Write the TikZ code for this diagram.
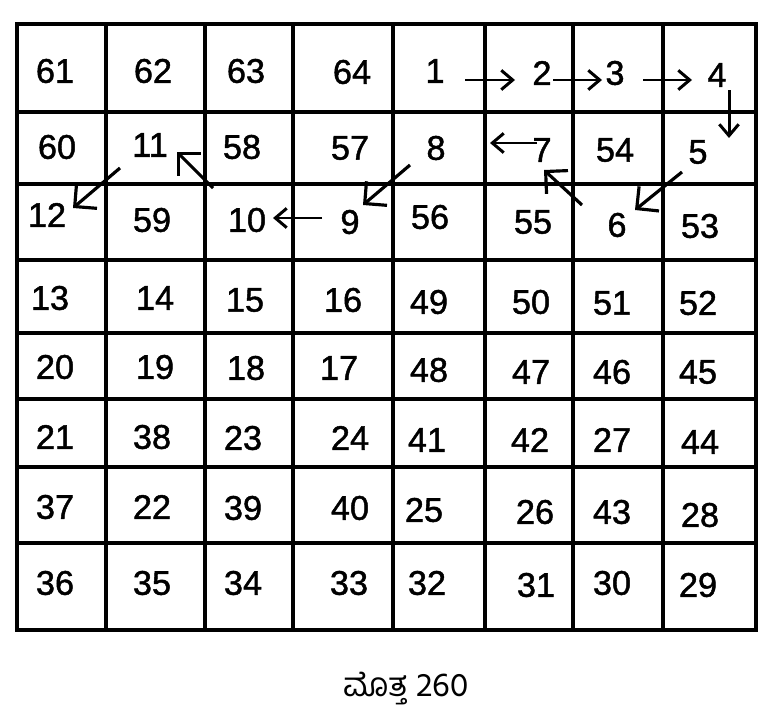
\documentclass[tikz,border=0pt]{standalone}
\usepackage{fontspec}
\setmainfont{Liberation Sans}
\newfontfamily\numfont[FakeBold=1.3]{Liberation Sans}
\newfontfamily\kannadafont[Script=Kannada]{Hind Mysuru}
\usepackage{tikz}
\usetikzlibrary{arrows.meta}

\begin{document}
\begin{tikzpicture}[x=0.02cm,y=-0.02cm]
  \tikzstyle{gridline}=[line width=2.3pt]
  \tikzstyle{num}=[font=\numfont\fontsize{19.5}{22}\selectfont, inner sep=0pt]
  \tikzstyle{straight move}=[line width=1.7pt, -{Straight Barb[length=6.5pt,width=11pt]}]
  \tikzstyle{diagonal move}=[line width=1.8pt, -{Straight Barb[length=9pt,width=18pt]}]
  \tikzstyle{caption}=[font=\kannadafont\fontsize{19}{22}\selectfont, inner sep=0pt]

  \useasboundingbox (0,0) rectangle (778,720);

  % the square
  \draw[gridline] (17,24) rectangle (756,630);
  \foreach \x in {106,205,293,393,485,573,663}
    \draw[gridline] (\x,24) -- (\x,630);
  \foreach \y in {112,184,260,333,399,467,543}
    \draw[gridline] (17,\y) -- (756,\y);

  % numbers
  \foreach \n/\px/\py in {61/55/71, 62/153/71, 63/246/71, 64/352/72,
      1/435/71, 2/542/73, 3/615/73, 4/717/75,
      60/57/147, 11/150/145, 58/242/147, 57/350/148,
      8/436/148, 7/542/150, 54/615/150, 5/698/152,
      12/47/215, 59/152/220, 10/247/220, 9/350/222,
      56/430/217, 55/533/222, 6/617/225, 53/700/226,
      13/50/298, 14/155/298, 15/245/300, 16/343/300,
      49/429/302, 50/531/302, 51/612/303, 52/698/303,
      20/55/367, 19/155/367, 18/246/368, 17/339/368,
      48/429/370, 47/531/372, 46/612/372, 45/698/372,
      21/55/437, 38/152/437, 23/243/438, 24/350/438,
      41/427/440, 42/530/440, 27/612/440, 44/700/442,
      37/55/507, 22/152/507, 39/243/508, 40/350/508,
      25/424/510, 26/535/512, 43/612/512, 28/700/515,
      36/55/583, 35/152/583, 34/243/583, 33/349/583,
      32/427/583, 31/536/585, 30/612/583, 29/698/585}
    \node[num] (n\n) at (\px,\py) {\n};

  % path of the first numbers
  \draw[straight move] ([shift={(30,9)}]n1.center) -- ([shift={(-27,7)}]n2.center);
  \draw[straight move] ([shift={(11,7)}]n2.center) -- ([shift={(-13,7)}]n3.center);
  \draw[straight move] ([shift={(28,7)}]n3.center) -- ([shift={(-25,5)}]n4.center);
  \draw[straight move] ([shift={(12,15)}]n4.center) -- ([shift={(31,-14)}]n5.center);
  \draw[diagonal move] ([shift={(-16,20)}]n5.center) -- ([shift={(18,-15)}]n6.center);
  \draw[diagonal move] ([shift={(-35,-20)}]n6.center) -- ([shift={(2,20)}]n7.center);
  \draw[straight move] ([shift={(-5,-7)}]n7.center) -- ([shift={(54,-5)}]n8.center);
  \draw[diagonal move] ([shift={(-26,17)}]n8.center) -- ([shift={(13,-17)}]n9.center);
  \draw[straight move] ([shift={(-28,-4)}]n9.center) -- ([shift={(26,-2)}]n10.center);
  \draw[diagonal move] ([shift={(-34,-32)}]n10.center) -- ([shift={(27,7)}]n11.center);
  \draw[diagonal move] ([shift={(-30,23)}]n11.center) -- ([shift={(26,-7)}]n12.center);

  \node[caption] (total) at (406,689) {ಮೊತ್ತ 260};
\end{tikzpicture}
\end{document}
